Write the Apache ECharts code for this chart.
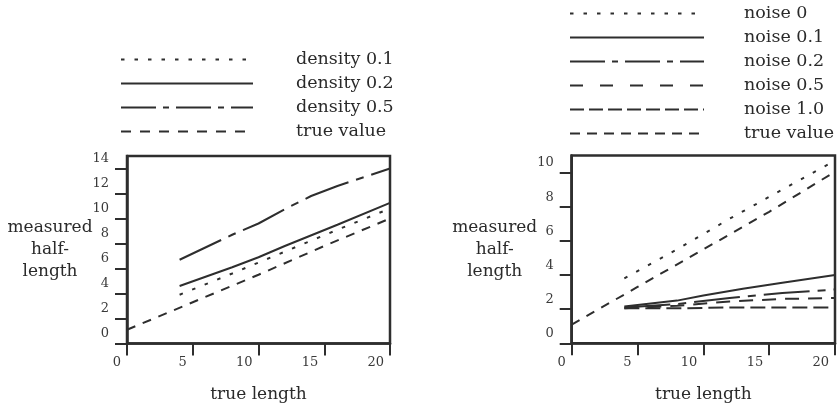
<!DOCTYPE html>
<html>
<head>
<meta charset="utf-8">
<script src="https://cdn.jsdelivr.net/npm/echarts@6/dist/echarts.min.js"></script>
<style>
html,body{margin:0;padding:0;background:#fff;}
#c{width:838px;height:407px;}
</style>
</head>
<body>
<div id="c"></div>
<script>
// ---- tick values ----
const xTicks = [0, 5, 10, 15, 20];
const leftYTicks = [0, 2, 4, 6, 8, 10, 12, 14];
const rightYTicks = [0, 2, 4, 6, 8, 10];

// ---- left panel: density ----
const leftNames = ['density 0.1', 'density 0.2', 'density 0.5', 'true value'];
const d01X = [4, 8, 12, 16, 20];
const d01Y = [3.9, 5.6, 7.35, 9.1, 10.8];
const d02X = [4, 8, 10, 12, 16, 20];
const d02Y = [4.6, 6.1, 6.9, 7.8, 9.5, 11.25];
const d05X = [4, 8, 10, 12, 14, 16, 18, 20];
const d05Y = [6.7, 8.7, 9.6, 10.75, 11.8, 12.6, 13.3, 14.0];
const trueLX = [0, 5, 10, 15, 20];
const trueLY = [1.1, 3.3, 5.5, 7.8, 10.0];

// ---- right panel: noise ----
const rightNames = ['noise 0', 'noise 0.1', 'noise 0.2', 'noise 0.5', 'noise 1.0', 'true value'];
const n0X = [4, 8, 12, 16, 20];
const n0Y = [3.8, 5.5, 7.3, 9.0, 10.7];
const n01X = [4, 8, 10, 13, 16, 20];
const n01Y = [2.15, 2.5, 2.8, 3.2, 3.55, 4.0];
const n02X = [4, 8, 12, 16, 20];
const n02Y = [2.1, 2.3, 2.65, 2.95, 3.15];
const n05X = [4, 8, 12, 16, 20];
const n05Y = [2.05, 2.2, 2.45, 2.6, 2.65];
const n10X = [4, 8, 12, 16, 20];
const n10Y = [2.05, 2.05, 2.1, 2.1, 2.1];
const trueRX = [0, 5, 10, 15, 20];
const trueRY = [1.1, 3.3, 5.5, 7.7, 10.05];

const FONT = '"DejaVu Serif", "Liberation Serif", serif';
const INK = '#2e2e2e';
const TXT = '#2a2a2a';
const LW = 2;

const DOT = [3.5, 10];
const DASHDOT = [46, 8, 8, 8];
const TRUE_DASH = [9, 8];

function pairs(xs, ys) { return xs.map((x, i) => [x, ys[i]]); }

function line(name, xs, ys, dash, gi) {
  return {
    type: 'line', name: name, xAxisIndex: gi, yAxisIndex: gi,
    data: pairs(xs, ys), symbol: 'none', smooth: false, silent: true,
    lineStyle: { color: INK, width: LW, type: dash },
    itemStyle: { color: INK }
  };
}

function xAxis(gi) {
  return {
    gridIndex: gi, type: 'value', min: 0, max: 20, interval: 5,
    splitLine: { show: false },
    axisLine: { show: true, onZero: false, lineStyle: { color: INK, width: 2.5 } },
    axisTick: { show: true, inside: false, length: 12, lineStyle: { color: INK, width: 2 }, customValues: xTicks },
    axisLabel: { fontFamily: FONT, fontSize: 13, color: '#3a3a3a', align: 'right', padding: [0, 6, 0, 0], margin: 13, customValues: xTicks },
    name: 'true length', nameLocation: 'middle', nameGap: 51,
    nameTextStyle: { fontFamily: FONT, fontSize: 17, color: TXT, verticalAlign: 'middle', align: 'center' }
  };
}

function yAxis(gi, max, ticks) {
  return {
    gridIndex: gi, type: 'value', min: 0, max: max, interval: 2,
    splitLine: { show: false },
    axisLine: { show: true, onZero: false, lineStyle: { color: INK, width: 2.5 } },
    axisTick: { show: true, inside: false, length: 12, lineStyle: { color: INK, width: 2 }, customValues: ticks },
    axisLabel: { fontFamily: FONT, fontSize: 13, color: '#3a3a3a', margin: 18, verticalAlign: 'bottom', padding: [0, 0, 3, 0], customValues: ticks },
    name: 'measured\nhalf-\nlength', nameLocation: 'middle', nameRotate: 0, nameGap: 77,
    nameMoveOverlap: false,
    nameTextStyle: { fontFamily: FONT, fontSize: 17, color: TXT, align: 'center', verticalAlign: 'middle', lineHeight: 22 }
  };
}

function legend(names, left, top, itemWidth, textPad, iconDash) {
  return {
    orient: 'vertical', left: left, top: top, padding: 0,
    itemWidth: itemWidth, itemHeight: 20, itemGap: 4,
    selectedMode: false,
    data: names.map((n, i) => ({ name: n, lineStyle: { type: iconDash[i], width: LW, color: INK } })),
    itemStyle: { opacity: 0, borderWidth: 0, color: 'transparent' },
    textStyle: { fontFamily: FONT, fontSize: 17.5, color: TXT, lineHeight: 20, padding: [0, 0, 0, textPad] }
  };
}

const chart = echarts.init(document.getElementById('c'), null, { renderer: 'canvas' });
chart.setOption({
  animation: false,
  backgroundColor: '#fff',
  grid: [
    { left: 127, right: 448, top: 156, bottom: 63.5, show: true, borderColor: INK, borderWidth: 2.5, containLabel: false },
    { left: 571.7, right: 3, top: 155.5, bottom: 63.7, show: true, borderColor: INK, borderWidth: 2.5, containLabel: false }
  ],
  legend: [
    legend(leftNames, 120, 49.5, 132, 38, [DOT, 'solid', [35, 7, 6, 7], [10, 9]]),
    legend(rightNames, 569, 3.5, 134, 35, [DOT, 'solid', [35, 7, 6, 7], [13, 17], [14, 5], [10, 7]])
  ],
  xAxis: [xAxis(0), xAxis(1)],
  yAxis: [yAxis(0, 15, leftYTicks), yAxis(1, 11, rightYTicks)],
  series: [
    line(leftNames[0], d01X, d01Y, DOT, 0),
    line(leftNames[1], d02X, d02Y, 'solid', 0),
    line(leftNames[2], d05X, d05Y, DASHDOT, 0),
    line(leftNames[3], trueLX, trueLY, TRUE_DASH, 0),
    line(rightNames[0], n0X, n0Y, DOT, 1),
    line(rightNames[1], n01X, n01Y, 'solid', 1),
    line(rightNames[2], n02X, n02Y, DASHDOT, 1),
    line(rightNames[3], n05X, n05Y, [14, 9], 1),
    line(rightNames[4], n10X, n10Y, [15, 6], 1),
    line(rightNames[5], trueRX, trueRY, TRUE_DASH, 1)
  ]
});
</script>
</body>
</html>
